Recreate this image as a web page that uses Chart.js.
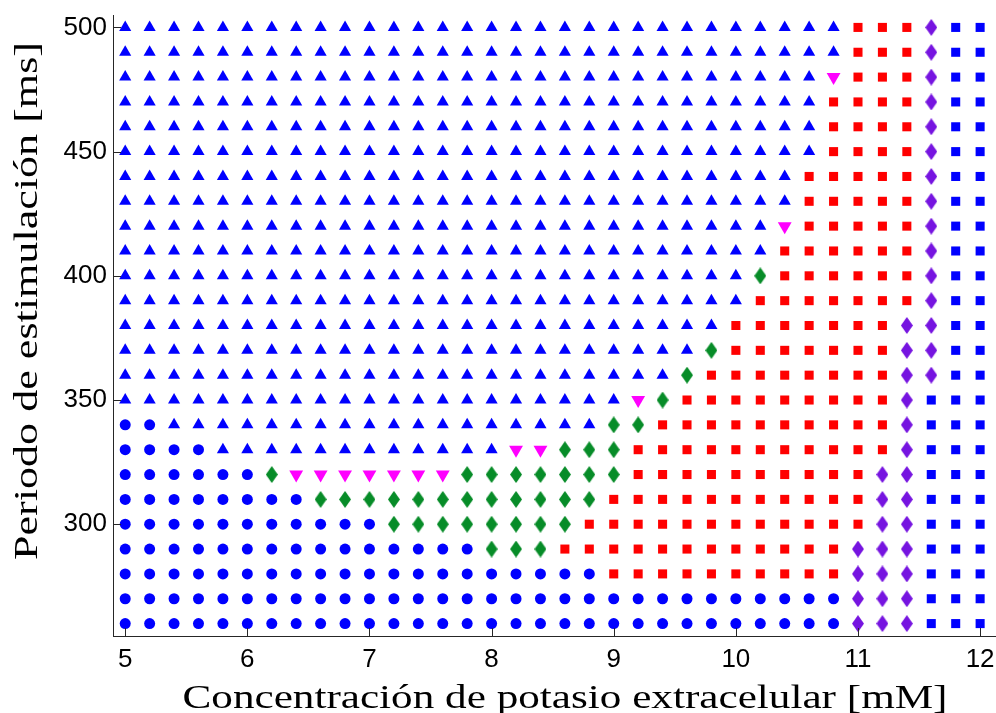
<!DOCTYPE html>
<html>
<head>
<meta charset="utf-8">
<script src="https://cdn.jsdelivr.net/npm/chart.js@4.4.1/dist/chart.umd.min.js"></script>
<style>
    html, body { margin: 0; padding: 0; background: #fff; }
    #wrap { width: 996px; height: 713px; }
</style>
</head>
<body>
<div id="wrap"><canvas id="myChart"></canvas></div>
<script>
// grid of simulated conditions
const potassium = [5.0, 5.2, 5.4, 5.6, 5.8, 6.0, 6.2, 6.4, 6.6, 6.8, 7.0, 7.2, 7.4, 7.6, 7.8, 8.0, 8.2, 8.4,
    8.6, 8.8, 9.0, 9.2, 9.4, 9.6, 9.8, 10.0, 10.2, 10.4, 10.6, 10.8, 11.0, 11.2, 11.4, 11.6, 11.8, 12.0];
const period = [500, 490, 480, 470, 460, 450, 440, 430, 420, 410, 400, 390, 380, 370, 360, 350, 340, 330,
    320, 310, 300, 290, 280, 270, 260];

// regime per cell, one row per period, run-length: code + count (left to right)
// A = blue triangle, o = blue circle, v = magenta triangle down, g = green diamond,
// r = red square, p = purple diamond, b = blue square
const regimeRows = [
    'A30 r3 p1 b2',
    'A30 r3 p1 b2',
    'A29 v1 r3 p1 b2',
    'A29 r4 p1 b2',
    'A29 r4 p1 b2',
    'A29 r4 p1 b2',
    'A28 r5 p1 b2',
    'A28 r5 p1 b2',
    'A27 v1 r5 p1 b2',
    'A27 r6 p1 b2',
    'A26 g1 r6 p1 b2',
    'A26 r7 p1 b2',
    'A25 r7 p2 b2',
    'A24 g1 r7 p2 b2',
    'A23 g1 r8 p2 b2',
    'A21 v1 g1 r9 p1 b3',
    'o2 A18 g2 r10 p1 b3',
    'o4 A12 v2 g3 r11 p1 b3',
    'o6 g1 v7 g7 r10 p2 b3',
    'o8 g12 r11 p2 b3',
    'o11 g8 r12 p2 b3',
    'o15 g3 r12 p3 b3',
    'o20 r10 p3 b3',
    'o30 p3 b3',
    'o30 p3 b3'
];

const xTickValues = [5, 6, 7, 8, 9, 10, 11, 12];
const yTickValues = [300, 350, 400, 450, 500];

const xTitle = 'Concentración de potasio extracelular [mM]';
const yTitle = 'Periodo de estimulación [ms]';

// tall diamond marker
function diamond(color) {
    const c = document.createElement('canvas');
    c.width = 12;
    c.height = 17;
    const g = c.getContext('2d');
    g.fillStyle = color;
    g.beginPath();
    g.moveTo(6, 0);
    g.lineTo(12, 8.5);
    g.lineTo(6, 17);
    g.lineTo(0, 8.5);
    g.closePath();
    g.fill();
    return c;
}

const markers = {
    A: { style: 'triangle', radius: 7, rotation: 0, color: '#0000ff' },
    o: { style: 'circle', radius: 5.5, rotation: 0, color: '#0000ff' },
    v: { style: 'triangle', radius: 8, rotation: 180, color: '#ff00ff' },
    g: { style: diamond('#078c28'), radius: 7, rotation: 0, color: '#078c28' },
    r: { style: 'rect', radius: 6.4, rotation: 0, color: '#ff0000' },
    p: { style: diamond('#7614e0'), radius: 7, rotation: 0, color: '#7614e0' },
    b: { style: 'rect', radius: 6.4, rotation: 0, color: '#0000ff' }
};

const points = {};
Object.keys(markers).forEach(k => points[k] = []);
regimeRows.forEach((row, r) => {
    let col = 0;
    row.split(' ').forEach(tok => {
        const code = tok[0];
        const n = parseInt(tok.slice(1));
        for (let k = 0; k < n; k++) {
            points[code].push({ x: potassium[col], y: period[r] });
            col++;
        }
    });
});

const datasets = Object.keys(markers).map(k => ({
    label: k,
    data: points[k],
    pointStyle: markers[k].style,
    pointRadius: markers[k].radius,
    pointRotation: markers[k].rotation,
    backgroundColor: markers[k].color,
    borderColor: markers[k].color,
    borderWidth: 0,
    showLine: false
}));

// MATLAB style ticks pointing into the plot
const inwardTicks = {
    id: 'inwardTicks',
    afterDraw(chart) {
        const ctx = chart.ctx;
        const a = chart.chartArea;
        const xs = chart.scales.x, ys = chart.scales.y;
        ctx.save();
        ctx.strokeStyle = '#262626';
        ctx.lineWidth = 1;
        ctx.beginPath();
        xTickValues.forEach(v => {
            const px = Math.round(xs.getPixelForValue(v)) + 0.5;
            ctx.moveTo(px, a.bottom);
            ctx.lineTo(px, a.bottom - 8);
        });
        yTickValues.forEach(v => {
            const py = Math.round(ys.getPixelForValue(v)) + 0.5;
            ctx.moveTo(a.left, py);
            ctx.lineTo(a.left + 8, py);
        });
        ctx.stroke();
        ctx.restore();
    }
};

// serif axis labels, stretched to the width of the original LaTeX text
const axisTitles = {
    id: 'axisTitles',
    afterDraw(chart) {
        const ctx = chart.ctx;
        ctx.save();
        ctx.fillStyle = '#000';
        ctx.font = '34px "Liberation Serif"';
        ctx.textAlign = 'center';
        ctx.textBaseline = 'alphabetic';

        let w = ctx.measureText(xTitle).width;
        ctx.save();
        ctx.translate(565, 708);
        ctx.scale(765 / w, 1);
        ctx.fillText(xTitle, 0, 0);
        ctx.restore();

        w = ctx.measureText(yTitle).width;
        ctx.save();
        ctx.translate(37, 301);
        ctx.rotate(-Math.PI / 2);
        ctx.scale(518 / w, 1);
        ctx.fillText(yTitle, 0, 0);
        ctx.restore();
        ctx.restore();
    }
};

const ctx = document.getElementById('myChart').getContext('2d');
const myChart = new Chart(ctx, {
    type: 'scatter',
    data: { datasets: datasets },
    options: {
        responsive: true,
        maintainAspectRatio: false,
        animation: false,
        layout: {
            autoPadding: false,
            padding: { top: 15, left: 0, right: 0, bottom: 0 }
        },
        plugins: {
            legend: { display: false },
            tooltip: { enabled: false }
        },
        scales: {
            x: {
                type: 'linear',
                min: 4.9,
                max: 12.13,
                afterBuildTicks: scale => { scale.ticks = xTickValues.map(v => ({ value: v })); },
                afterFit: scale => {
                    scale.height = 77;
                    scale.paddingLeft = 0;
                    scale.paddingRight = 0;
                },
                grid: { display: true, drawOnChartArea: false, drawTicks: false },
                border: { display: true, color: '#262626', width: 1 },
                ticks: {
                    color: '#000',
                    padding: 8,
                    maxRotation: 0,
                    font: { family: 'Liberation Sans', size: 26 }
                }
            },
            y: {
                type: 'linear',
                min: 255,
                max: 505,
                afterBuildTicks: scale => { scale.ticks = yTickValues.map(v => ({ value: v })); },
                afterFit: scale => {
                    scale.width = 113;
                    scale.paddingTop = 0;
                    scale.paddingBottom = 0;
                },
                grid: { display: true, drawOnChartArea: false, drawTicks: false },
                border: { display: true, color: '#262626', width: 1 },
                ticks: {
                    color: '#000',
                    padding: 6,
                    font: { family: 'Liberation Sans', size: 26 }
                }
            }
        }
    },
    plugins: [inwardTicks, axisTitles]
});
</script>
</body>
</html>
